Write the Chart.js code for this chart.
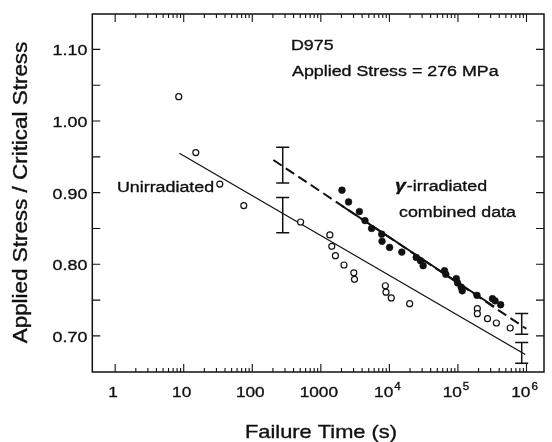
<!DOCTYPE html>
<html>
<head>
<meta charset="utf-8">
<script src="https://cdn.jsdelivr.net/npm/chart.js@4/dist/chart.umd.min.js"></script>
<style>
  html, body { margin: 0; padding: 0; background: #fff; }
  #wrap { width: 552px; height: 442px; position: relative; }
</style>
</head>
<body>
<div id="wrap"><canvas id="c"></canvas></div>
<script>
// ---- data ----
const unirradiatedTime   = [8.46, 15.0, 33.6, 75.2, 507, 1353, 1445, 1632, 2175, 3027, 3097, 8730, 8930, 10650, 19760, 191800, 191800, 270000, 363600, 578000];
const unirradiatedStress = [1.034, 0.956, 0.912, 0.882, 0.859, 0.841, 0.825, 0.812, 0.799, 0.788, 0.779, 0.770, 0.761, 0.753, 0.745, 0.738, 0.731, 0.724, 0.718, 0.711];

const irradiatedTime   = [2035, 2537, 3653, 4404, 5495, 7730, 7815, 10070, 15170, 24620, 28430, 31050, 63630, 66530, 94620, 98700, 111700, 115400, 189700, 318600, 348300, 419700];
const irradiatedStress = [0.9035, 0.887, 0.8736, 0.861, 0.850, 0.842, 0.832, 0.8235, 0.817, 0.8095, 0.805, 0.798, 0.791, 0.786, 0.780, 0.774, 0.768, 0.763, 0.7566, 0.752, 0.749, 0.7435];

const unirradiatedFitTime   = [8.64, 960000];
const unirradiatedFitStress = [0.955, 0.674];
const irradiatedFitTime     = [203, 993000];
const irradiatedFitStress   = [0.9456, 0.710];
const irradiatedSolidTime   = [1992, 337000];
const irradiatedSolidStress = [0.882, 0.741];

const errorBarTime = [278, 278, 851000, 851000];
const errorBarLow  = [0.9133, 0.844, 0.7024, 0.6617];
const errorBarHigh = [0.9634, 0.8932, 0.7314, 0.6907];

const xTickValues = [1, 10, 100, 1000, 1e4, 1e5, 1e6];
const xTickBase   = ['1', '10', '100', '1000', '10', '10', '10'];
const xTickExp    = ['', '', '', '', '4', '5', '6'];
const yTickValues = [0.70, 0.80, 0.90, 1.00, 1.10];
const yTickLabels = ['0.70', '0.80', '0.90', '1.00', '1.10'];
const yMinorTickValues = [0.75, 0.85, 0.95, 1.05];

const xTitle = 'Failure Time (s)';
const yTitle = 'Applied Stress / Critical Stress';

// ---- drawing ----
const FONT = "'Liberation Sans', Arial, Helvetica, sans-serif";
const INK = '#111';
const SX = 1.15;

function txt(ctx, s, x, y, size, align, font) {
  ctx.save();
  ctx.font = font || (size + 'px ' + FONT);
  const w = ctx.measureText(s).width * SX;
  const x0 = align === 'center' ? x - w / 2 : (align === 'right' ? x - w : x);
  ctx.translate(x0, y);
  ctx.scale(SX, 1);
  ctx.fillStyle = INK;
  ctx.strokeStyle = INK;
  ctx.lineWidth = 0.35;
  ctx.textBaseline = 'alphabetic';
  ctx.textAlign = 'left';
  ctx.fillText(s, 0, 0);
  ctx.strokeText(s, 0, 0);
  ctx.restore();
  return w;
}

const frame = {
  id: 'frame',
  afterDatasetsDraw(chart) {
    const ctx = chart.ctx, a = chart.chartArea;
    const xs = chart.scales.x, ys = chart.scales.y;
    ctx.save();
    ctx.strokeStyle = INK;
    ctx.lineWidth = 1.5;
    ctx.strokeRect(a.left, a.top, a.right - a.left, a.bottom - a.top);
    ctx.lineWidth = 1.1;
    ctx.beginPath();
    // x ticks (bottom and top, inward)
    const xt = [];
    xTickValues.forEach(v => xt.push([v, 8]));
    for (let d = 0; d < xTickValues.length - 1; d++) {
      for (let m = 2; m <= 9; m++) xt.push([xTickValues[d] * m, 4]);
    }
    xt.forEach(([v, len]) => {
      const px = xs.getPixelForValue(v);
      ctx.moveTo(px, a.bottom); ctx.lineTo(px, a.bottom - len);
      ctx.moveTo(px, a.top); ctx.lineTo(px, a.top + len);
    });
    // y ticks (left and right, inward)
    yTickValues.concat(yMinorTickValues).forEach(v => {
      const py = ys.getPixelForValue(v);
      ctx.moveTo(a.left, py); ctx.lineTo(a.left + 8, py);
      ctx.moveTo(a.right, py); ctx.lineTo(a.right - 8, py);
    });
    ctx.stroke();
    ctx.restore();
  },
  afterDraw(chart) {
    const ctx = chart.ctx, a = chart.chartArea;
    const xs = chart.scales.x, ys = chart.scales.y;
    // y tick labels
    yTickValues.forEach((v, i) => {
      const py = ys.getPixelForValue(v);
      txt(ctx, yTickLabels[i], a.left - 5, py + 6, 15.5, 'right');
    });
    // x tick labels with superscripts
    xTickValues.forEach((v, i) => {
      const px = xs.getPixelForValue(v) - 2;
      ctx.save();
      ctx.font = '15px ' + FONT;
      const wb = ctx.measureText(xTickBase[i]).width * SX;
      ctx.font = '10px ' + FONT;
      const we = xTickExp[i] ? ctx.measureText(xTickExp[i]).width * SX + 1 : 0;
      ctx.restore();
      const x0 = px - (wb + we) / 2;
      txt(ctx, xTickBase[i], x0, 397, 15, 'left');
      if (xTickExp[i]) txt(ctx, xTickExp[i], x0 + wb + 1, 390, 10, 'left');
    });
    // axis titles
    txt(ctx, xTitle, 321, 438, 19, 'center');
    ctx.save();
    ctx.translate(27, 192.5);
    ctx.rotate(-Math.PI / 2);
    txt(ctx, yTitle, 0, 0, 19.5, 'center');
    ctx.restore();
    // annotations
    txt(ctx, 'D975', 291, 49.5, 15.5, 'left');
    txt(ctx, 'Applied Stress = 276 MPa', 292, 76, 15.5, 'left');
    txt(ctx, 'Unirradiated', 117, 191.5, 15.5, 'left');
    const gw = txt(ctx, '\u03B3', 395, 190.5, 17, 'left', 'italic bold 17px ' + FONT);
    txt(ctx, '-irradiated', 395 + gw + 1, 190.5, 15.5, 'left');
    txt(ctx, 'combined data', 399, 216.5, 15.5, 'left');
  }
};

const pts = (xs, ys) => xs.map((x, i) => ({ x: x, y: ys[i] }));

const datasets = [
  {
    label: 'Unirradiated', data: pts(unirradiatedTime, unirradiatedStress),
    showLine: false, pointRadius: 3, pointBorderWidth: 1.2,
    pointBackgroundColor: '#fff', pointBorderColor: INK, order: 0
  },
  {
    label: 'Irradiated', data: pts(irradiatedTime, irradiatedStress),
    showLine: false, pointRadius: 3.4, pointBorderWidth: 0.5,
    pointBackgroundColor: INK, pointBorderColor: INK, order: 0
  },
  {
    label: 'Unirradiated fit', data: pts(unirradiatedFitTime, unirradiatedFitStress),
    showLine: true, pointRadius: 0, borderColor: INK, borderWidth: 1.3, order: 2
  },
  {
    label: 'Irradiated fit', data: pts(irradiatedFitTime, irradiatedFitStress),
    showLine: true, pointRadius: 0, borderColor: INK, borderWidth: 2, borderDash: [10, 5], order: 2
  },
  {
    label: 'Irradiated fit (data range)', data: pts(irradiatedSolidTime, irradiatedSolidStress),
    showLine: true, pointRadius: 0, borderColor: INK, borderWidth: 2, order: 2
  }
];
errorBarTime.forEach((t, i) => {
  datasets.push({
    label: 'Error bar ' + (i + 1),
    data: [{ x: t, y: errorBarLow[i] }, { x: t, y: errorBarHigh[i] }],
    showLine: true, borderColor: INK, borderWidth: 1.5,
    pointStyle: 'line', pointRadius: 6.5, pointBorderWidth: 1.5,
    pointBorderColor: INK, pointBackgroundColor: INK, order: 1
  });
});

new Chart(document.getElementById('c'), {
  type: 'scatter',
  data: { datasets: datasets },
  options: {
    responsive: true,
    maintainAspectRatio: false,
    animation: false,
    layout: { padding: { left: 0, top: 14, right: 1.3, bottom: 0 } },
    plugins: { legend: { display: false }, tooltip: { enabled: false } },
    scales: {
      x: {
        type: 'logarithmic', min: 0.464, max: 1.80e6,
        ticks: { display: false },
        grid: { display: false, drawTicks: false },
        border: { display: false },
        afterFit(s) { s.height = 70; }
      },
      y: {
        type: 'linear', min: 0.6496, max: 1.1494,
        ticks: { display: false },
        grid: { display: false, drawTicks: false },
        border: { display: false },
        afterFit(s) { s.width = 92.3; }
      }
    }
  },
  plugins: [frame]
});
</script>
</body>
</html>
